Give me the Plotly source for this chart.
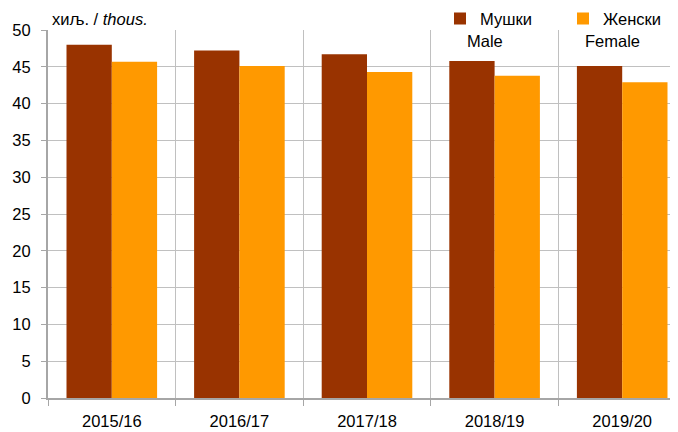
import plotly.graph_objects as go

categories = ["2015/16", "2016/17", "2017/18", "2018/19", "2019/20"]
male = [48.0, 47.2, 46.7, 45.8, 45.1]
female = [45.7, 45.1, 44.3, 43.8, 42.9]
y_ticks = list(range(0, 51, 5))

fig = go.Figure()
fig.add_trace(go.Bar(x=categories, y=male, name="Мушки", marker=dict(color="#993300", line=dict(width=0))))
fig.add_trace(go.Bar(x=categories, y=female, name="Женски", marker=dict(color="#FF9900", line=dict(width=0))))

font = dict(family="Liberation Sans, Arial, sans-serif", size=16.5, color="#000000")

L, T, W = 48, 30, 638
def px(x):
    return (x - L) / W

fig.update_layout(
    width=678, height=432,
    margin=dict(l=40, r=0, t=22, b=42, autoexpand=False),
    paper_bgcolor="white", plot_bgcolor="white",
    font=font,
    barmode="group", bargap=0.29, bargroupgap=0,
    showlegend=True,
    legend=dict(orientation="h", x=px(440), y=1.078, xanchor="left", yanchor="top",
                entrywidth=78, entrywidthmode="pixels", font=font,
                itemwidth=30, tracegroupgap=0, bgcolor="rgba(0,0,0,0)"),
    xaxis=dict(type="category", tickson="boundaries", showgrid=True, gridcolor="#c0c0c0", gridwidth=1,
               ticks="outside", ticklen=6, tickcolor="#a6a6a6", showline=True, linecolor="#a6a6a6", linewidth=2,
               ticklabelstandoff=7),
    yaxis=dict(range=[0, 50], tickvals=y_ticks, showgrid=True, gridcolor="#c0c0c0", gridwidth=1,
               ticks="outside", ticklen=5, tickcolor="#a6a6a6", showline=True, linecolor="#a6a6a6", linewidth=2,
               zeroline=False, ticklabelstandoff=7),
    annotations=[
        dict(text="хиљ. / <i>thous.</i>", xref="paper", yref="paper", x=px(50), y=1.0, xanchor="left", yanchor="bottom",
             showarrow=False, font=font),
        dict(text="Male", xref="paper", yref="paper", x=px(485), y=1.0, xanchor="center", yanchor="top",
             showarrow=False, font=font),
        dict(text="Female", xref="paper", yref="paper", x=px(612), y=1.0, xanchor="center", yanchor="top",
             showarrow=False, font=font),
    ],
)

fig.write_html("out.html")
